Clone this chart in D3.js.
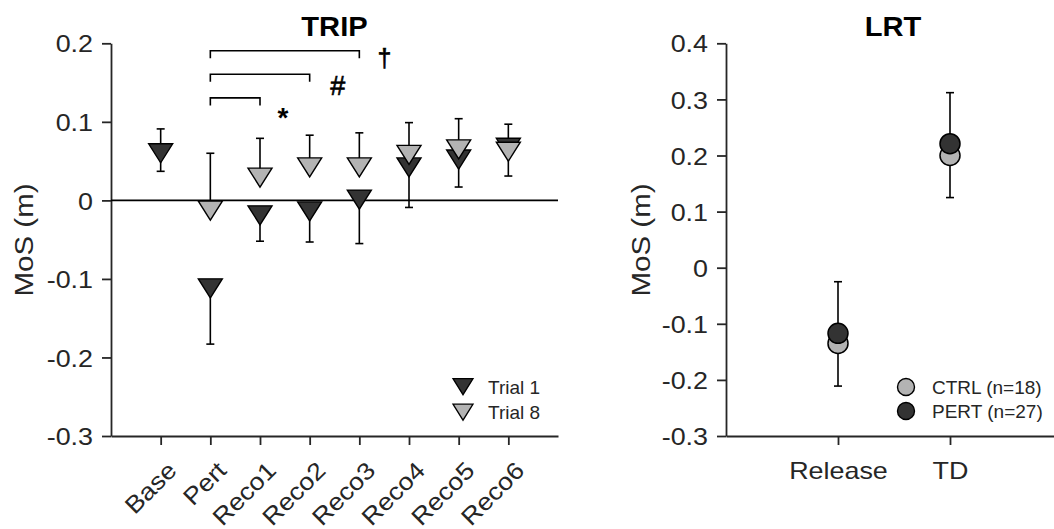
<!DOCTYPE html>
<html><head><meta charset="utf-8">
<script src="https://cdn.jsdelivr.net/npm/d3@7"></script>
<style>body{margin:0;background:#fff}svg{display:block}text{font-family:"Liberation Sans",Arial,sans-serif}</style>
</head><body><svg id="c" width="1054" height="529"></svg>
<script>
// ---- data ----
const categories = ["Base","Pert","Reco1","Reco2","Reco3","Reco4","Reco5","Reco6"];
const trial1Mean = [0.064,-0.108,-0.015,-0.010,0.005,0.046,0.056,0.071];
const trial1SD   = [0.027,0.075,0.037,0.043,0.060,0.055,0.039,0.040];
const trial8Mean = [null,-0.009,0.033,0.046,0.046,0.062,0.069,0.066];
const trial8SD   = [null,0.069,0.046,0.037,0.040,0.037,0.035,0.031];
const tripTicks  = [-0.3,-0.2,-0.1,0,0.1,0.2];
const brackets   = [{from:"Pert",to:"Reco1",mark:"*"},{from:"Pert",to:"Reco2",mark:"#"},{from:"Pert",to:"Reco3",mark:"\u2020"}];
const lrtCats  = ["Release","TD"];
const ctrlMean = [-0.135,0.200];
const ctrlSD   = [0.076,0.075];
const pertMean = [-0.117,0.221];
const pertSD   = [0.092,0.091];
const lrtTicks = [-0.3,-0.2,-0.1,0,0.1,0.2,0.3,0.4];
const legendTrip = ["Trial 1","Trial 8"];
const legendLrt  = ["CTRL (n=18)","PERT (n=27)"];

const DARK="#333333", LIGHT="#b3b3b3", AX="#262626";
const svg = d3.select("#c");
const fmt = v => v===0 ? "0" : v.toFixed(1);
function stretch(sel,k){sel.each(function(){const w=this.getComputedTextLength();d3.select(this).attr("textLength",w*k).attr("lengthAdjust","spacingAndGlyphs");});}

// ---- TRIP panel ----
const x1 = d3.scaleLinear().domain([0,9]).range([111,558]);
const y1 = d3.scaleLinear().domain([-0.3,0.2]).range([436,43.3]);
const gy1 = svg.append("g").attr("transform","translate(111,0)")
  .call(d3.axisLeft(y1).tickValues(tripTicks).tickFormat(fmt).tickSize(9).tickPadding(9).tickSizeOuter(0));
const gx1 = svg.append("g").attr("transform","translate(0,436)")
  .call(d3.axisBottom(x1).tickValues(d3.range(1,9)).tickFormat(i=>categories[i-1]).tickSize(9).tickSizeOuter(0));
[gy1,gx1].forEach(g=>{g.select(".domain").attr("stroke",AX).attr("stroke-width",1.8);g.selectAll(".tick line").attr("stroke",AX).attr("stroke-width",1.8);g.selectAll("text").style("font-size","24px").style("fill",AX);});
gy1.selectAll("text").attr("dy","0.36em"); stretch(gy1.selectAll("text"),1.12);
gx1.selectAll("text").attr("y",null).attr("dy",null).attr("text-anchor","end")
  .attr("transform","translate(17,36) rotate(-45)");
stretch(gx1.selectAll("text"),1.12);

// zero line
svg.append("line").attr("x1",x1(0)).attr("x2",x1(9)).attr("y1",y1(0)).attr("y2",y1(0)).attr("stroke","#000").attr("stroke-width",1.6);

const cap=4, TW=24, TH=19;
function tri(cx,cy,w,h){return `M${cx-w/2},${cy-h/3}L${cx+w/2},${cy-h/3}L${cx},${cy+2*h/3}Z`;}
function ebar(g,x,yTop,yBot){
  g.append("line").attr("x1",x).attr("x2",x).attr("y1",yTop).attr("y2",yBot).attr("stroke","#000").attr("stroke-width",1.6);
}
function capAt(g,x,y){g.append("line").attr("x1",x-cap).attr("x2",x+cap).attr("y1",y).attr("y2",y).attr("stroke","#000").attr("stroke-width",1.6);}
const eb = svg.append("g");
categories.forEach((c,i)=>{
  const x=x1(i+1);
  const m1=trial1Mean[i], s1=trial1SD[i];
  if(trial8Mean[i]===null){ ebar(eb,x,y1(m1+s1),y1(m1-s1)); capAt(eb,x,y1(m1+s1)); capAt(eb,x,y1(m1-s1)); }
  else {
    ebar(eb,x,y1(m1),y1(m1-s1)); capAt(eb,x,y1(m1-s1));
    const m8=trial8Mean[i], s8=trial8SD[i];
    ebar(eb,x,y1(m8),y1(m8+s8)); capAt(eb,x,y1(m8+s8));
  }
});
svg.append("g").selectAll("path").data(categories).join("path")
  .attr("d",(c,i)=>tri(x1(i+1),y1(trial1Mean[i]),TW,TH)).attr("fill",DARK).attr("stroke","#000").attr("stroke-width",1.4);
svg.append("g").selectAll("path").data(categories.filter((c,i)=>trial8Mean[i]!==null)).join("path")
  .attr("d",c=>{const i=categories.indexOf(c);return tri(x1(i+1),y1(trial8Mean[i]),TW,TH);}).attr("fill",LIGHT).attr("stroke","#000").attr("stroke-width",1.4);

// significance brackets
const bY=[0.12,0.15,0.18];
brackets.forEach((b,k)=>{
  const xa=x1(categories.indexOf(b.from)+1), xb=x1(categories.indexOf(b.to)+1), yy=y1(bY[k]+0.0105);
  svg.append("path").attr("d",`M${xa},${yy+7.5}V${yy}H${xb}V${yy+7.5}`).attr("fill","none").attr("stroke","#000").attr("stroke-width",1.6);
});
svg.append("text").attr("x",x1(3)+23).attr("y",127).attr("text-anchor","middle").style("font-size","28px").style("font-weight","bold").style("fill","#000").text(brackets[0].mark);
svg.append("text").attr("x",x1(4)+28).attr("y",95).attr("text-anchor","middle").style("font-size","27px").style("fill","#000").style("stroke","#000").style("stroke-width","0.6px").text(brackets[1].mark);
svg.append("text").attr("x",x1(5)+25).attr("y",67).attr("text-anchor","middle").style("font-size","25px").style("fill","#000").style("stroke","#000").style("stroke-width","0.6px").text(brackets[2].mark);

// title & ylabel
svg.append("text").attr("x",(x1(0)+x1(9))/2).attr("y",36).attr("text-anchor","middle").style("font-size","28px").style("font-weight","bold").style("fill","#000").text("TRIP").call(stretch,1.04);
svg.append("text").attr("transform","translate(33,240) rotate(-90)").attr("text-anchor","middle").style("font-size","25px").style("fill",AX).text("MoS (m)").call(stretch,1.18);

// legend TRIP
legendTrip.forEach((t,k)=>{
  const ly=384+k*25.5;
  svg.append("path").attr("d",tri(463,ly,20,16)).attr("fill",k===0?DARK:LIGHT).attr("stroke","#000").attr("stroke-width",1.3);
  svg.append("text").attr("x",488).attr("y",ly+9.5).style("font-size","19px").style("fill",AX).text(t);
});

// ---- LRT panel ----
const x2 = d3.scaleLinear().domain([0,3]).range([726,1062]);
const y2 = d3.scaleLinear().domain([-0.3,0.4]).range([436,43.3]);
const gy2 = svg.append("g").attr("transform","translate(726,0)")
  .call(d3.axisLeft(y2).tickValues(lrtTicks).tickFormat(fmt).tickSize(9).tickPadding(9).tickSizeOuter(0));
const gx2 = svg.append("g").attr("transform","translate(0,436)")
  .call(d3.axisBottom(x2).tickValues([1,2]).tickFormat(i=>lrtCats[i-1]).tickSize(9).tickPadding(17).tickSizeOuter(0));
[gy2,gx2].forEach(g=>{g.select(".domain").attr("stroke",AX).attr("stroke-width",1.8);g.selectAll(".tick line").attr("stroke",AX).attr("stroke-width",1.8);g.selectAll("text").style("font-size","24px").style("fill",AX);});
gy2.selectAll("text").attr("dy","0.36em"); stretch(gy2.selectAll("text"),1.12);
stretch(gx2.selectAll("text"),1.12);

const eb2=svg.append("g");
lrtCats.forEach((c,i)=>{
  const x=x2(i+1);
  ebar(eb2,x,y2(ctrlMean[i]),y2(ctrlMean[i]-ctrlSD[i])); capAt(eb2,x,y2(ctrlMean[i]-ctrlSD[i]));
  ebar(eb2,x,y2(pertMean[i]),y2(pertMean[i]+pertSD[i])); capAt(eb2,x,y2(pertMean[i]+pertSD[i]));
});
svg.append("g").selectAll("circle").data(lrtCats).join("circle")
  .attr("cx",(c,i)=>x2(i+1)).attr("cy",(c,i)=>y2(ctrlMean[i])).attr("r",10).attr("fill",LIGHT).attr("stroke","#000").attr("stroke-width",1.5);
svg.append("g").selectAll("circle").data(lrtCats).join("circle")
  .attr("cx",(c,i)=>x2(i+1)).attr("cy",(c,i)=>y2(pertMean[i])).attr("r",10).attr("fill",DARK).attr("stroke","#000").attr("stroke-width",1.5);

svg.append("text").attr("x",(726+1062)/2-1).attr("y",36).attr("text-anchor","middle").style("font-size","28px").style("font-weight","bold").style("fill","#000").text("LRT").call(stretch,1.04);
svg.append("text").attr("transform","translate(650,240) rotate(-90)").attr("text-anchor","middle").style("font-size","25px").style("fill",AX).text("MoS (m)").call(stretch,1.18);

legendLrt.forEach((t,k)=>{
  const ly=387+k*24;
  svg.append("circle").attr("cx",906).attr("cy",ly).attr("r",8.5).attr("fill",k===0?LIGHT:DARK).attr("stroke","#000").attr("stroke-width",1.4);
  svg.append("text").attr("x",932).attr("y",ly+6.5).style("font-size","19px").style("fill",AX).text(t);
});
</script></body></html>
